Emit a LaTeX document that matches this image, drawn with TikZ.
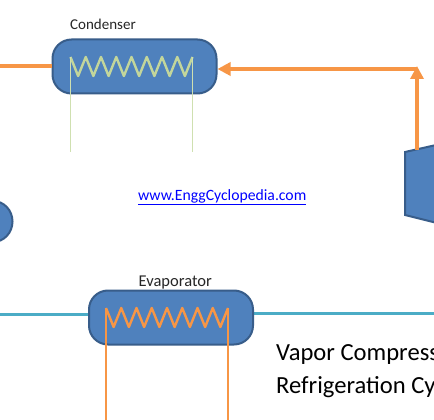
\documentclass[tikz,border=0pt]{standalone}
\usepackage{fontspec}
\setmainfont{Carlito}
\usetikzlibrary{arrows.meta,calc}
\definecolor{boxfill}{HTML}{4F81BD}
\definecolor{boxedge}{HTML}{385D8A}
\definecolor{hot}{HTML}{F79646}
\definecolor{cold}{HTML}{4BACC6}
\definecolor{coilgreen}{HTML}{C3D69B}
\definecolor{stemgreen}{HTML}{CFE0B0}
\newcommand{\zigzag}[5]{% style, x0, x1, ytop, ybottom
  \draw[#1] (#2,#4)
  \foreach \k in {1,...,16} {
    -- ({#2+(#3-#2)*\k/16},{ifthenelse(mod(\k,2)==1,#5,#4)})
  };}
\tikzset{
  unit/.style={draw=boxedge,fill=boxfill,line width=2pt},
  exchanger/.style={unit,rounded corners=19pt,minimum width=164pt,minimum height=54pt,inner sep=0pt},
  hotpipe/.style={draw=hot,line width=3.7pt},
  coldpipe/.style={draw=cold,line width=3pt},
  hothead/.style={-{Triangle[length=13pt,width=13pt]}},
  coilgr/.style={draw=coilgreen,line width=2.4pt,line join=round},
  coilor/.style={draw=hot,line width=2.4pt,line join=round},
  stemgr/.style={draw=stemgreen,line width=1.7pt},
  stemor/.style={draw=hot,line width=1.7pt},
  lbl/.style={inner sep=0pt,text=black!85}
}
\begin{document}
\begin{tikzpicture}[x=1pt,y=-1pt]
\useasboundingbox (0,0) rectangle (434,420);
\clip (0,0) rectangle (434,420);
\fill[white] (0,0) rectangle (434,420);
\coordinate (leftA) at (0,66);
\coordinate (leftB) at (0,314);
\coordinate (rightB) at (434,313);
\coordinate (corner) at (417,69);
\coordinate (cgA) at (70.5,152);
\coordinate (cgB) at (192.5,152);
\coordinate (eoA) at (106,420);
\coordinate (eoB) at (228,420);
\path[coldpipe] (leftB) -- (100,314);
\path[coldpipe] (240,313) -- (rightB);
\node[exchanger] (cond) at (134.5,66.5) {};
\node[exchanger] (evap) at (171,317.5) {};
\path[hotpipe] (leftA) -- (cond.west |- leftA);
\node[coordinate] (compA) at (417,150) {};
\draw[unit,line join=miter] (405,152) -- (445,143) -- (445,225) -- (405,215) -- cycle;
\draw[unit] (-7,221.5) ellipse [x radius=19.5pt,y radius=20.5pt];
\path[hotpipe,hothead] (compA) -- (417,66);
\path[hotpipe,hothead] (corner) -- (cond.east |- corner);
\zigzag{coilgr}{70.5}{192.5}{57}{76}
\draw[stemgr] (70.5,57) -- (cgA);
\draw[stemgr] (192.5,57) -- (cgB);
\zigzag{coilor}{106}{228}{308}{327}
\draw[stemor] (106,308) -- (eoA);
\draw[stemor] (228,308) -- (eoB);
\node[lbl,anchor=base west,font=\fontsize{15}{17}\selectfont] (tc) at (70,30) {Condenser};
\node[lbl,anchor=base west,font=\fontsize{16.5}{18}\selectfont] (te) at (138.5,286) {Evaporator};
\node[anchor=base west,inner sep=0pt,text=blue,font=\fontsize{15.7}{17}\selectfont] (link) at (138,200) {\underline{www.EnggCyclopedia.com}};
\node[anchor=base west,inner sep=0pt,font=\fontsize{24.6}{33}\selectfont] (t1) at (276,360) {Vapor Compression};
\node[anchor=base west,inner sep=0pt,font=\fontsize{24.6}{33}\selectfont] (t2) at (276,393) {Refrigeration Cycle};
\end{tikzpicture}
\end{document}
